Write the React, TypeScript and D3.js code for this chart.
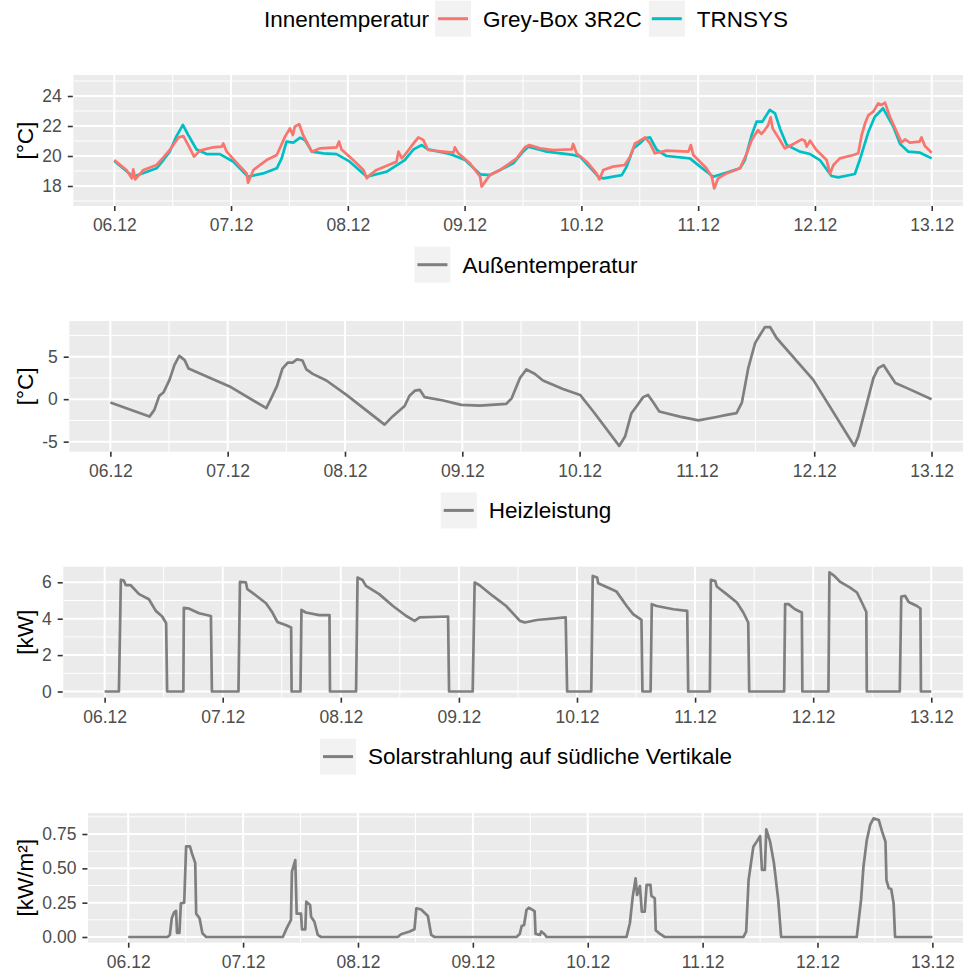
import React, { useEffect, useRef } from "react";
import * as d3 from "d3";

// x axis: hours since 06.12 00:00
const xTickLabels = ["06.12", "07.12", "08.12", "09.12", "10.12", "11.12", "12.12", "13.12"];

// Innentemperatur, Grey-Box 3R2C [hour, °C]
const innenGreyBox: [number, number][] = [
  [0, 19.73], [2.5, 19.07], [3.6, 18.51], [3.9, 19.11], [4.3, 18.44], [6.0, 19.07], [8.7, 19.4],
  [10.1, 19.91], [11.4, 20.4], [13.2, 21.24], [14.2, 21.33], [15.2, 20.73], [16.4, 19.96],
  [17.6, 20.36], [20.3, 20.58], [22.1, 20.62], [22.4, 20.84], [23.1, 20.29], [25.8, 19.33],
  [27.2, 18.84], [27.5, 18.22], [28.6, 19.07], [31.3, 19.73], [33.4, 20.07], [35.1, 21.29],
  [36.1, 21.84], [36.7, 21.4], [37.1, 21.96], [38.0, 22.13], [38.8, 21.4], [40.6, 20.29],
  [42.3, 20.51], [45.7, 20.58], [46.2, 20.96], [46.7, 20.44], [49.1, 19.73], [51.2, 19.07],
  [51.9, 18.51], [52.5, 18.73], [53.9, 19.07], [58.0, 19.62], [58.4, 20.29], [59.1, 19.84],
  [59.7, 20.07], [61.1, 20.67], [62.5, 21.24], [63.5, 21.07], [64.5, 20.4], [67.6, 20.29],
  [69.7, 20.22], [70.0, 20.58], [70.7, 20.18], [73.1, 19.51], [75.2, 18.62], [75.5, 17.96],
  [77.2, 18.73], [79.3, 19.07], [82.7, 19.84], [84.4, 20.58], [85.3, 20.73], [87.5, 20.51],
  [90.2, 20.4], [94.0, 20.44], [94.3, 20.8], [95.0, 20.18], [97.1, 19.62], [99.1, 18.84],
  [99.7, 18.44], [100.5, 19.07], [102.5, 19.29], [104.9, 19.4], [106.0, 19.96], [107.0, 20.84],
  [107.7, 20.96], [109.1, 21.24], [110.1, 20.84], [111.1, 20.18], [113.5, 20.36], [118.0, 20.29],
  [118.5, 20.73], [119.0, 20.07], [121.7, 19.18], [122.8, 18.62], [123.3, 17.84], [124.1, 18.51],
  [125.8, 18.84], [128.6, 19.18], [130.0, 20.18], [131.0, 21.07], [132.3, 21.73], [133.0, 21.47],
  [133.7, 21.73], [134.4, 22.07], [134.9, 22.58], [135.3, 21.84], [136.8, 21.07], [137.8, 20.51],
  [139.2, 20.73], [141.3, 21.11], [141.9, 21.02], [142.3, 20.62], [143.0, 21.02], [144.3, 20.4],
  [146.4, 19.73], [147.1, 18.84], [147.8, 19.4], [149.1, 19.84], [151.9, 20.07], [152.9, 20.18],
  [153.6, 21.4], [154.3, 22.18], [155.0, 22.73], [156.0, 22.96], [157.0, 23.51], [157.7, 23.4],
  [158.4, 23.56], [159.4, 22.62], [160.8, 21.62], [161.8, 20.89], [162.5, 21.11], [163.5, 20.89],
  [165.5, 20.96], [165.9, 21.24], [166.6, 20.67], [168, 20.22],
];

// Innentemperatur, TRNSYS [hour, °C]
const innenTrnsys: [number, number][] = [
  [0, 19.67], [3.9, 18.62], [8.7, 19.18], [10.1, 19.73], [11.4, 20.29], [12.8, 21.33],
  [14.1, 22.07], [15.2, 21.4], [16.9, 20.44], [19.0, 20.13], [21.7, 20.13], [24.5, 19.62],
  [27.5, 18.62], [30.6, 18.84], [33.4, 19.18], [34.4, 19.84], [35.4, 20.96], [36.8, 20.89],
  [38.2, 21.22], [39.2, 21.07], [40.6, 20.29], [43.0, 20.18], [45.7, 20.13], [48.4, 19.62],
  [51.9, 18.62], [56.0, 18.96], [59.7, 19.73], [61.5, 20.44], [63.2, 20.73], [64.5, 20.44],
  [69.0, 20.13], [72.1, 19.73], [75.2, 18.78], [77.2, 18.73], [82.0, 19.51], [84.0, 20.29],
  [85.1, 20.62], [88.9, 20.29], [94.3, 20.07], [95.7, 19.96], [99.5, 18.62], [100.5, 18.51],
  [104.3, 18.73], [105.3, 19.29], [106.7, 20.51], [108.0, 20.84], [109.1, 21.18], [110.1, 21.24],
  [111.5, 20.4], [113.5, 20.0], [118.3, 19.84], [120.4, 19.29], [123.1, 18.62], [128.6, 19.18],
  [129.6, 19.73], [131.0, 21.4], [132.0, 22.29], [133.2, 22.29], [134.7, 23.07], [135.8, 22.84],
  [136.8, 21.84], [138.2, 20.73], [140.9, 20.29], [143.0, 20.13], [145.0, 19.73], [147.4, 18.67],
  [148.8, 18.58], [152.2, 18.8], [153.2, 19.73], [155.0, 21.62], [156.3, 22.62], [158.0, 23.18],
  [160.1, 21.96], [161.5, 20.8], [163.2, 20.29], [165.6, 20.22], [168, 19.84],
];

// Außentemperatur [hour, °C]
const aussenTemp: [number, number][] = [
  [0, -0.4], [8.0, -2.05], [9.0, -1.26], [10.0, 0.39], [10.85, 0.78], [12.1, 2.27], [13.1, 4.0],
  [14.1, 5.1], [15.2, 4.6], [16.0, 3.6], [18.2, 3.06], [24.4, 1.5], [31.9, -1.06], [32.9, 0.1],
  [34.1, 1.56], [35.2, 3.6], [36.3, 4.3], [37.3, 4.3], [38.2, 4.7], [39.3, 4.55], [40.1, 3.5],
  [41.4, 2.98], [44.2, 2.2], [48.3, 0.5], [56.1, -3.0], [57.8, -2.0], [60.2, -0.8], [61.2, 0.4],
  [62.3, 1.0], [63.3, 1.1], [64.3, 0.24], [68.1, -0.15], [71.8, -0.67], [75.6, -0.75],
  [81.0, -0.55], [82.1, 0.1], [83.8, 2.5], [85.1, 3.5], [86.8, 3.0], [88.5, 2.2], [92.6, 1.2],
  [96.1, 0.5], [98.8, -1.45], [104.1, -5.5], [105.3, -4.4], [106.6, -1.65], [107.7, -0.8],
  [109.0, 0.24], [110.0, 0.5], [111.1, -0.4], [112.3, -1.45], [116.5, -2.05], [120.3, -2.5],
  [124.0, -2.1], [126.1, -1.85], [128.1, -1.65], [129.2, -0.4], [130.5, 3.65], [131.9, 6.6],
  [132.9, 7.56], [133.9, 8.47], [135.0, 8.47], [136.3, 7.2], [143.8, 2.27], [152.2, -5.5],
  [153.0, -4.4], [156.1, 2.47], [157.1, 3.65], [158.2, 4.0], [159.2, 3.1], [160.6, 1.9],
  [163.0, 1.3], [168, 0],
];

// Heizleistung [hour, kW]
const heizleistung: [number, number][] = [
  [0, 0], [2.9, 0], [3.3, 6.13], [3.9, 6.1], [4.3, 5.84], [5.3, 5.84], [7.0, 5.35], [9.0, 5.07],
  [10.4, 4.43], [11.7, 4.12], [12.5, 3.75], [12.7, 0], [16.0, 0], [16.1, 4.6], [17.2, 4.55],
  [19.2, 4.3], [21.6, 4.15], [21.8, 0], [27.2, 0], [27.5, 6.02], [28.7, 6.0], [29.0, 5.62],
  [30.7, 5.29], [32.8, 4.85], [34.1, 4.34], [35.1, 3.82], [36.9, 3.64], [37.9, 3.52], [38.0, 0],
  [39.8, 0], [40.0, 4.48], [40.9, 4.34], [43.6, 4.2], [45.7, 4.2], [45.8, 0], [51.1, 0],
  [51.4, 6.26], [52.4, 6.13], [53.1, 5.8], [55.8, 5.35], [58.6, 4.7], [61.3, 4.15], [63.0, 3.88],
  [64.0, 4.07], [69.8, 4.12], [70.0, 0], [74.8, 0], [75.2, 5.99], [76.2, 5.84], [78.9, 5.25],
  [81.6, 4.7], [84.4, 3.88], [85.4, 3.79], [87.8, 3.93], [93.7, 4.07], [94.0, 0], [98.9, 0],
  [99.2, 6.35], [100.1, 6.26], [100.3, 5.95], [102.7, 5.66], [104.0, 5.5], [106.1, 4.7],
  [107.4, 4.25], [109.1, 3.93], [109.3, 0], [110.96, 0], [111.2, 4.8], [112.2, 4.7], [115.6, 4.52],
  [118.4, 4.43], [118.6, 0], [123.0, 0], [123.2, 6.13], [124.1, 6.07], [124.4, 5.77], [126.4, 5.35],
  [128.5, 4.89], [129.8, 4.34], [130.8, 3.79], [131.0, 0], [138.1, 0], [138.3, 4.8], [139.0, 4.8],
  [140.3, 4.52], [141.7, 4.34], [141.8, 0], [147.1, 0], [147.3, 6.54], [148.3, 6.35], [149.5, 6.02],
  [151.5, 5.71], [152.9, 5.44], [153.9, 4.89], [154.8, 4.37], [154.9, 0], [161.6, 0], [161.9, 5.22],
  [162.7, 5.25], [163.4, 4.92], [165.1, 4.7], [165.8, 4.56], [165.9, 0], [168, 0],
];

// Solarstrahlung auf südliche Vertikale [hour, kW/m²]
const solar: [number, number][] = [
  [0, 0], [8.2, 0], [8.7, 0.015], [9.1, 0.136], [9.6, 0.18], [10.0, 0.19], [10.2, 0.03],
  [10.7, 0.03], [11.0, 0.245], [11.7, 0.25], [12.1, 0.66], [12.9, 0.66], [13.3, 0.61], [14.0, 0.54],
  [14.2, 0.17], [14.9, 0.136], [15.5, 0.027], [16.3, 0], [32.3, 0], [33.1, 0.063], [34.0, 0.124],
  [34.2, 0.476], [34.9, 0.56], [35.2, 0.17], [36.1, 0.17], [36.3, 0.056], [37.0, 0.056],
  [37.2, 0.257], [38.0, 0.233], [38.2, 0.148], [38.9, 0.111], [39.6, 0.015], [40.3, 0], [56.3, 0],
  [57.0, 0.02], [58.8, 0.04], [59.8, 0.056], [60.2, 0.209], [61.2, 0.2], [62.6, 0.153],
  [63.3, 0.015], [64.0, 0], [81.1, 0], [81.8, 0.022], [82.2, 0.08], [82.7, 0.087], [83.2, 0.197],
  [83.7, 0.213], [84.9, 0.189], [85.1, 0.022], [86.0, 0.015], [86.3, 0.04], [87.0, 0.02],
  [87.4, 0], [104.1, 0], [104.8, 0.1], [105.4, 0.294], [106.0, 0.427], [106.3, 0.306],
  [106.9, 0.371], [107.3, 0.184], [107.9, 0.184], [108.3, 0.379], [109.1, 0.379], [109.3, 0.3],
  [110.0, 0.282], [110.2, 0.05], [111.1, 0.022], [112.1, 0], [128.5, 0], [129.1, 0.04],
  [129.6, 0.415], [130.6, 0.658], [131.4, 0.7], [132.0, 0.735], [132.4, 0.488], [133.0, 0.488],
  [133.3, 0.784], [134.1, 0.694], [134.9, 0.537], [135.8, 0.27], [136.4, 0], [152.2, 0],
  [153.1, 0.27], [153.6, 0.512], [154.3, 0.706], [155.0, 0.816], [155.7, 0.864], [156.8, 0.852],
  [157.5, 0.767], [158.2, 0.694], [158.4, 0.415], [158.9, 0.355], [159.4, 0.35], [159.9, 0.245],
  [160.2, 0], [168, 0],
];

const W = 963;
const H = 974;
const PANEL_RIGHT = 972.6; // panels run past the right edge of the picture
const LEGEND_CX = 526;
const FONT = '"Liberation Sans", Arial, Helvetica, sans-serif';
const RED = "#F8766D";
const TEAL = "#00BFC4";
const GREY = "#7F7F7F";

const dayTicks = xTickLabels.map((_, i) => i * 24);
const noonTicks = dayTicks.slice(0, -1).map((h) => h + 12);

const panels = [
  {
    left: 73.4, top: 75, bottom: 206, yDomain: [16.667, 25.4],
    yTicks: [18, 20, 22, 24], yMinor: [17, 19, 21, 23, 25], yTitle: "[°C]",
    fmt: (d: number) => String(d),
    series: [{ data: innenTrnsys, color: TEAL }, { data: innenGreyBox, color: RED }],
    legend: { cy: 18.7, title: "Innentemperatur", items: [{ label: "Grey-Box 3R2C", color: RED }, { label: "TRNSYS", color: TEAL }] },
  },
  {
    left: 69.3, top: 321, bottom: 451.7, yDomain: [-6.18, 9.2],
    yTicks: [-5, 0, 5], yMinor: [-2.5, 2.5, 7.5], yTitle: "[°C]",
    fmt: (d: number) => String(d),
    series: [{ data: aussenTemp, color: GREY }],
    legend: { cy: 264.7, title: "", items: [{ label: "Außentemperatur", color: GREY }] },
  },
  {
    left: 63.3, top: 566.7, bottom: 697.7, yDomain: [-0.34, 6.857],
    yTicks: [0, 2, 4, 6], yMinor: [1, 3, 5], yTitle: "[kW]",
    fmt: (d: number) => String(d),
    series: [{ data: heizleistung, color: GREY }],
    legend: { cy: 510.4, title: "", items: [{ label: "Heizleistung", color: GREY }] },
  },
  {
    left: 88, top: 813, bottom: 942.7, yDomain: [-0.0415, 0.903],
    yTicks: [0, 0.25, 0.5, 0.75], yMinor: [0.125, 0.375, 0.625, 0.875], yTitle: "[kW/m²]",
    fmt: d3.format(".2f"),
    series: [{ data: solar, color: GREY }],
    legend: { cy: 756.6, title: "", items: [{ label: "Solarstrahlung auf südliche Vertikale", color: GREY }] },
  },
];

function drawPanel(svg: any, p: any) {
  const x = d3.scaleLinear().domain([-8.4, 176.4]).range([p.left, PANEL_RIGHT]);
  const y = d3.scaleLinear().domain(p.yDomain).range([p.bottom, p.top]);
  const g = svg.append("g");

  g.append("rect")
    .attr("x", p.left).attr("y", p.top)
    .attr("width", PANEL_RIGHT - p.left).attr("height", p.bottom - p.top)
    .attr("fill", "#EBEBEB");

  // grid: minor first, then major
  const grid = g.append("g").attr("stroke", "#fff");
  grid.selectAll("line.ymin").data(p.yMinor).join("line").attr("class", "ymin")
    .attr("x1", p.left).attr("x2", PANEL_RIGHT)
    .attr("y1", (d: number) => y(d)).attr("y2", (d: number) => y(d)).attr("stroke-width", 1);
  grid.selectAll("line.xmin").data(noonTicks).join("line").attr("class", "xmin")
    .attr("y1", p.top).attr("y2", p.bottom)
    .attr("x1", (d: number) => x(d)).attr("x2", (d: number) => x(d)).attr("stroke-width", 1);
  grid.selectAll("line.ymaj").data(p.yTicks).join("line").attr("class", "ymaj")
    .attr("x1", p.left).attr("x2", PANEL_RIGHT)
    .attr("y1", (d: number) => y(d)).attr("y2", (d: number) => y(d)).attr("stroke-width", 2);
  grid.selectAll("line.xmaj").data(dayTicks).join("line").attr("class", "xmaj")
    .attr("y1", p.top).attr("y2", p.bottom)
    .attr("x1", (d: number) => x(d)).attr("x2", (d: number) => x(d)).attr("stroke-width", 2);

  const line = d3.line<[number, number]>().x((d) => x(d[0])).y((d) => y(d[1]));
  p.series.forEach((s: any) => {
    g.append("path").datum(s.data).attr("d", line)
      .attr("fill", "none").attr("stroke", s.color)
      .attr("stroke-width", 2.7).attr("stroke-linejoin", "round");
  });

  // axes
  const xAxis = d3.axisBottom(x).tickValues(dayTicks).tickSize(5).tickPadding(8)
    .tickFormat((_d: any, i: number) => xTickLabels[i]);
  const yAxis = d3.axisLeft(y).tickValues(p.yTicks).tickSize(5).tickPadding(6).tickFormat(p.fmt);

  const styleAxis = (a: any) => {
    a.attr("font-size", 17.5).attr("font-family", FONT);
    a.select(".domain").remove();
    a.selectAll(".tick line").attr("stroke", "#333333").attr("stroke-width", 1.6);
    a.selectAll(".tick text").attr("fill", "#4D4D4D");
  };
  g.append("g").attr("transform", `translate(0,${p.bottom})`).call(xAxis).call(styleAxis);
  g.append("g").attr("transform", `translate(${p.left - 0.6},0)`).call(yAxis).call(styleAxis);

  g.append("text")
    .attr("transform", `translate(25.5,${(p.top + p.bottom) / 2}) rotate(-90)`)
    .attr("text-anchor", "middle").attr("dy", "0.35em")
    .attr("font-family", FONT).attr("font-size", 22.5).attr("fill", "#000")
    .text(p.yTitle);

  // legend, centred above the panel
  const lg = g.append("g").attr("font-family", FONT).attr("font-size", 22.5);
  let cursor = 0;
  if (p.legend.title) {
    const t = lg.append("text").attr("x", cursor).attr("y", p.legend.cy).attr("dy", "0.35em").text(p.legend.title);
    cursor += (t.node() as SVGTextElement).getComputedTextLength() + 6;
  }
  p.legend.items.forEach((it: any, i: number) => {
    if (i > 0) cursor += 7;
    lg.append("rect").attr("x", cursor).attr("y", p.legend.cy - 18)
      .attr("width", 36).attr("height", 36).attr("fill", "#F2F2F2");
    lg.append("line").attr("x1", cursor + 3).attr("x2", cursor + 33)
      .attr("y1", p.legend.cy).attr("y2", p.legend.cy)
      .attr("stroke", it.color).attr("stroke-width", 3);
    cursor += 36 + 12;
    const t = lg.append("text").attr("x", cursor).attr("y", p.legend.cy).attr("dy", "0.35em").text(it.label);
    cursor += (t.node() as SVGTextElement).getComputedTextLength();
  });
  lg.attr("transform", `translate(${LEGEND_CX - cursor / 2},0)`);
}

export default function App() {
  const ref = useRef<SVGSVGElement>(null);

  useEffect(() => {
    const svg = d3.select(ref.current);
    svg.selectAll("*").remove();
    panels.forEach((p) => drawPanel(svg, p));
  }, []);

  return (
    <svg
      ref={ref}
      width={W}
      height={H}
      style={{ position: "absolute", left: 0, top: 0, background: "#fff" }}
    />
  );
}
